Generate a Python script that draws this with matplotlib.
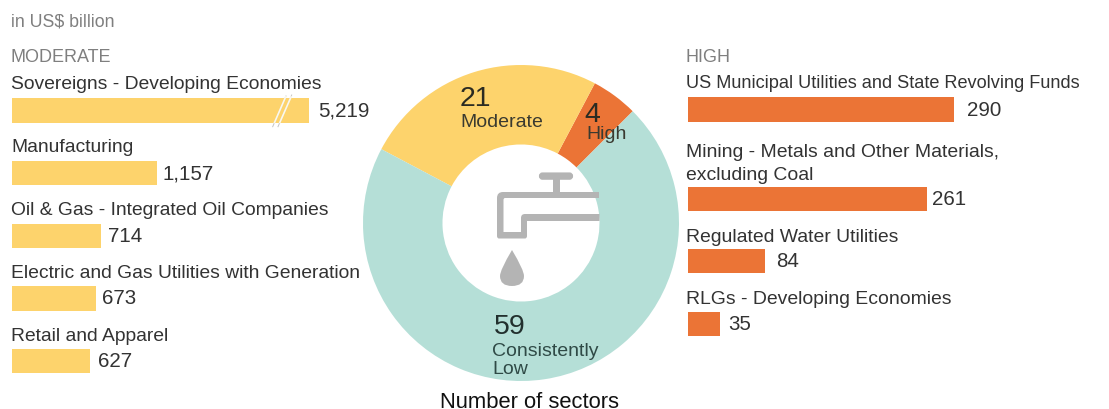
import matplotlib
matplotlib.use('Agg')
import matplotlib.pyplot as plt
from matplotlib.patches import FancyBboxPatch, Polygon, PathPatch
from matplotlib.path import Path

W, H = 1109, 409

# Data
moderate_names = ['Sovereigns - Developing Economies', 'Manufacturing',
                  'Oil & Gas - Integrated Oil Companies',
                  'Electric and Gas Utilities with Generation', 'Retail and Apparel']
moderate_values = [5219, 1157, 714, 673, 627]
high_names = ['US Municipal Utilities and State Revolving Funds',
              'Mining - Metals and Other Materials,\nexcluding Coal',
              'Regulated Water Utilities', 'RLGs - Developing Economies']
high_values = [290, 261, 84, 35]
sector_labels = ['High', 'Moderate', 'Consistently\nLow']
sector_counts = [4, 21, 59]

YELLOW = '#FDD36C'
ORANGE = '#EB7436'
TEAL = '#B5DFD7'
GREY = '#7F7F7F'
DARK = '#333333'
TAP = '#B4B4B4'

plt.rcParams['font.family'] = ['Liberation Sans', 'DejaVu Sans']


def px_axes(fig, left, top, right, bottom):
    return fig.add_axes([left / W, 1 - bottom / H, (right - left) / W, (bottom - top) / H])


fig = plt.figure(figsize=(W / 100, H / 100), dpi=100)

# Donut
ax_pie = px_axes(fig, 363, 65, 679, 381)
ax_pie.pie(sector_counts, colors=[ORANGE, YELLOW, TEAL], startangle=45, radius=1,
           wedgeprops=dict(width=0.503, edgecolor='none'))
ax_pie.set_xlim(-1, 1)
ax_pie.set_ylim(-1, 1)

# Moderate bars: the axis stops short, the first bar is cut off on purpose
ax_mod = px_axes(fig, 12, 79, 309, 392.5)
ax_mod.barh(range(5), moderate_values, height=0.39, color=YELLOW)
ax_mod.set_xlim(0, 2376)
ax_mod.set_ylim(4.5, -0.5)
ax_mod.axis('off')
mod_pad = [9, 6, 7, 6, 8]
mod_lift = [21, 21, 20.5, 20.5, 20]
for i, (name, val) in enumerate(zip(moderate_names, moderate_values)):
    ax_mod.annotate(name, (0, i), xytext=(-1, mod_lift[i]), textcoords='offset pixels',
                    fontsize=13.85, color=DARK, va='baseline', annotation_clip=False)
    ax_mod.annotate(f'{val:,}', (min(val, 2376), i), xytext=(mod_pad[i], -6), textcoords='offset pixels',
                    fontsize=14.8, color=DARK, va='baseline', annotation_clip=False)

# High bars sit in uneven rows because one label wraps
ax_high = px_axes(fig, 688, 60, 1100, 380)
high_rows = [109.5, 199, 261, 324]
ax_high.barh(high_rows, high_values, height=24.5, color=ORANGE)
ax_high.set_xlim(0, 412 / 0.917)
ax_high.set_ylim(380, 60)
ax_high.axis('off')
high_pad = [13, 5, 11, 8]
high_lift = [21, 19.5, 19.5, 19.5]
high_size = [13.05, 13.95, 13.95, 13.95]
for i, (name, val) in enumerate(zip(high_names, high_values)):
    ax_high.annotate(name, (0, high_rows[i]), xytext=(-2, high_lift[i]), textcoords='offset pixels',
                     fontsize=high_size[i], color=DARK, va='baseline', linespacing=1.42,
                     annotation_clip=False)
    ax_high.annotate(f'{val}', (val, high_rows[i]), xytext=(high_pad[i], -6), textcoords='offset pixels',
                     fontsize=14.8, color=DARK, va='baseline', annotation_clip=False)

# Overlay in pixel coordinates for titles, donut text and the tap
ax = fig.add_axes([0, 0, 1, 1], zorder=5)
ax.set_xlim(0, W)
ax.set_ylim(H, 0)
ax.axis('off')
ax.patch.set_alpha(0)

ax.text(11, 26, 'in US$ billion', fontsize=12.8, color=GREY, va='baseline')
ax.text(11, 62, 'MODERATE', fontsize=13, color=GREY, va='baseline')
ax.text(685.5, 62, 'HIGH', fontsize=13, color=GREY, va='baseline')
ax.text(530, 407.5, 'Number of sectors', fontsize=15.8, color='#111111', ha='center', va='baseline')

# Axis break on the first bar: grey hairlines with white where they cross the bar
ax.plot([272.7, 286], [126.7, 96], color='#C4C4C4', lw=0.7)
ax.plot([278, 291.7], [126.7, 95], color='#C4C4C4', lw=0.7)
ax.plot([274.5, 285.6], [122.5, 97], color='#FBF8EC', lw=1.2)
ax.plot([279.8, 291], [122.5, 97], color='#FBF8EC', lw=1.2)

# Donut labels
ax.text(460, 106, str(sector_counts[1]), fontsize=20.5, color='#2B2B22', va='baseline')
ax.text(460.5, 127, sector_labels[1], fontsize=14, color='#3A3A30', va='baseline')
ax.text(584, 122, str(sector_counts[0]), fontsize=20.5, color='#2B2B22', va='baseline')
ax.text(586.5, 139, sector_labels[0], fontsize=14, color='#3A3A30', va='baseline')
ax.text(494, 334, str(sector_counts[2]), fontsize=20.5, color='#22302E', va='baseline')
ax.text(492, 355.5, 'Consistently', fontsize=14, color='#2F4A46', va='baseline')
ax.text(492, 374, 'Low', fontsize=14, color='#2F4A46', va='baseline')

# Tap icon
ax.add_patch(FancyBboxPatch((541, 174.5), 30, 3.2, boxstyle='round,pad=0,rounding_size=1.6',
                            fc=TAP, ec=TAP, lw=3))
ax.add_patch(Polygon([(553, 178), (560, 178), (560, 193), (553, 193)], fc=TAP, ec='none'))
pipe = Path([(599, 192), (503, 192), (497, 192), (497, 198), (497, 236), (497, 238.5), (499, 238.5),
             (525, 238.5), (527, 238.5), (527, 236), (527, 221), (599.5, 221), (599.5, 214),
             (525, 214), (521, 214), (521, 218), (521, 232), (503.5, 232), (503.5, 200),
             (503.5, 198), (505, 198), (599, 198), (599, 192)],
            [Path.MOVETO, Path.LINETO, Path.CURVE3, Path.CURVE3, Path.LINETO, Path.CURVE3, Path.CURVE3,
             Path.LINETO, Path.CURVE3, Path.CURVE3, Path.LINETO, Path.LINETO, Path.LINETO,
             Path.LINETO, Path.CURVE3, Path.CURVE3, Path.LINETO, Path.LINETO, Path.LINETO,
             Path.CURVE3, Path.CURVE3, Path.LINETO, Path.CLOSEPOLY])
ax.add_patch(PathPatch(pipe, fc=TAP, ec='none'))
drop = Path([(512, 250), (500, 270), (500, 276), (500, 286), (512, 286), (524, 286), (524, 276),
             (524, 270), (512, 250)],
            [Path.MOVETO, Path.CURVE3, Path.CURVE3, Path.CURVE3, Path.CURVE3, Path.CURVE3, Path.CURVE3,
             Path.CURVE3, Path.CURVE3])
ax.add_patch(PathPatch(drop, fc=TAP, ec='none'))

plt.savefig('out.png', dpi=100)
